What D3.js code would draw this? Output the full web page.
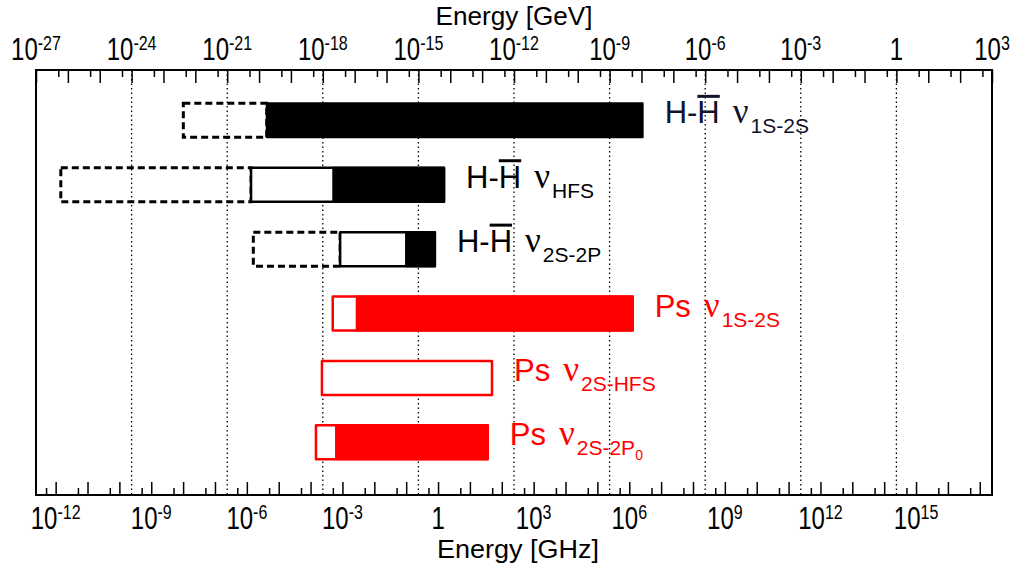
<!DOCTYPE html>
<html>
<head>
<meta charset="utf-8">
<script src="https://cdn.jsdelivr.net/npm/d3@7"></script>
<style>
  body { margin: 0; background: #fff; }
  svg text { font-family: "Liberation Sans", Arial, sans-serif; }
</style>
</head>
<body>
<svg id="chart"></svg>
<script>
// Energy ranges per row, in GeV (top axis)
var rowLabel = ["H-H", "H-H", "H-H", "Ps", "Ps", "Ps"];
var rowSub = ["1S-2S", "HFS", "2S-2P", "1S-2S", "2S-HFS", "2S-2P"];
var rowSubSub = ["", "", "", "", "", "0"];
var rowBar = [true, true, true, false, false, false]; // H-Hbar rows get the overline
var rowColor = ["#000", "#000", "#000", "#ff0000", "#ff0000", "#ff0000"];
var rowTextColor = ["#12122c", "#000", "#000", "#ff0000", "#ff0000", "#ff0000"];

var dashedFrom = [4.2e-23, 6.0e-27, 6.6e-21, null, null, null];
var dashedTo = [1.74e-20, 5.6e-21, 3.5e-18, null, null, null];
var openFrom = [null, 5.6e-21, 3.5e-18, 2.05e-18, 9.4e-19, 6.1e-19];
var fillFrom = [1.74e-20, 2.13e-18, 4.1e-16, 1.16e-17, null, 2.6e-18];
var upperEdge = [1.09e-8, 6.4e-15, 3.3e-15, 5.3e-9, 2.04e-13, 1.5e-13];

var gevDecades = d3.range(-27, 4);          // top axis decades
var gevLabelExp = d3.range(-27, 4, 3);     // labelled top ticks
var ghzDecades = d3.range(-12, 18);        // bottom axis decades
var ghzLabelExp = d3.range(-12, 16, 3);    // labelled bottom ticks

var GEV_PER_GHZ = 4.1357e-15;

var dimensions = {
    width: 1014,
    height: 567,
    left: 36,
    right: 992,
    top: 70,
    bottom: 495
};

var svg = d3.select("#chart")
    .attr("width", dimensions.width)
    .attr("height", dimensions.height);

svg.append("rect")
    .attr("width", dimensions.width)
    .attr("height", dimensions.height)
    .attr("fill", "white");

var xScale = d3.scaleLog()
    .domain([1e-27, 1e3])
    .range([dimensions.left, dimensions.right]);

var xGhz = d3.scaleLog()
    .domain([1e-27 / GEV_PER_GHZ, 1e3 / GEV_PER_GHZ])
    .range([dimensions.left, dimensions.right]);

var yScale = d3.scaleBand()
    .domain(d3.range(rowLabel.length))
    .range([dimensions.top, dimensions.bottom])
    .paddingInner(0.472)
    .paddingOuter(0.536)
    .align(0.483);

// dotted grid lines at labelled GeV ticks
svg.append("g")
    .selectAll("line")
    .data(gevLabelExp.filter(e => e > -27 && e < 3))
    .enter()
    .append("line")
    .attr("x1", d => xScale(Math.pow(10, d)))
    .attr("x2", d => xScale(Math.pow(10, d)))
    .attr("y1", dimensions.top)
    .attr("y2", dimensions.bottom)
    .attr("stroke", "#000")
    .attr("stroke-width", 1.3)
    .attr("stroke-dasharray", "1.5,3");

// ticks: long at decades, short at 5 x decade
function tickAxis(axisFn, scale, values, size, y) {
    var g = svg.append("g")
        .attr("transform", `translate(0, ${y})`)
        .call(axisFn(scale).tickValues(values).tickSize(size).tickFormat(""));
    g.select(".domain").remove();
    g.selectAll("line").attr("stroke", "#000").attr("stroke-width", 1.5);
}

var gevMajor = gevDecades.map(e => Math.pow(10, e));
var gevMinor = gevDecades.slice(0, -1).map(e => 5 * Math.pow(10, e));
var ghzMajor = ghzDecades.map(e => Math.pow(10, e));
var ghzMinor = d3.range(-13, 17).map(e => 5 * Math.pow(10, e));

tickAxis(d3.axisTop, xScale, gevMajor, -13, dimensions.top);
tickAxis(d3.axisTop, xScale, gevMinor, -7, dimensions.top);
tickAxis(d3.axisBottom, xGhz, ghzMajor, -13, dimensions.bottom);
tickAxis(d3.axisBottom, xGhz, ghzMinor, -7, dimensions.bottom);

// power-of-ten labels (glyphs a little taller than wide, like the original)
function powerLabels(scale, exps, y) {
    var t = svg.append("g")
        .selectAll("text")
        .data(exps)
        .enter()
        .append("text")
        .attr("transform", d => `translate(${scale(Math.pow(10, d))}, ${y}) scale(1, 1.28)`)
        .attr("text-anchor", "middle")
        .attr("font-size", 24)
        .attr("fill", "#000");
    t.filter(d => d === 0).text("1");
    t.filter(d => d !== 0).each(function(d) {
        var el = d3.select(this);
        el.append("tspan").text("10");
        el.append("tspan")
            .attr("dy", -8)
            .attr("font-size", 16)
            .text(d);
    });
}

powerLabels(xScale, gevLabelExp, 60);
powerLabels(xGhz, ghzLabelExp, 529);

// axis titles
svg.append("text")
    .attr("transform", `translate(${(dimensions.left + dimensions.right) / 2}, 25) scale(1, 1.1)`)
    .attr("text-anchor", "middle")
    .attr("font-size", 23)
    .attr("textLength", 157)
    .attr("lengthAdjust", "spacingAndGlyphs")
    .text("Energy [GeV]");

svg.append("text")
    .attr("transform", `translate(${(dimensions.left + dimensions.right) / 2 + 4}, 558) scale(1, 1.15)`)
    .attr("text-anchor", "middle")
    .attr("font-size", 23)
    .attr("textLength", 162)
    .attr("lengthAdjust", "spacingAndGlyphs")
    .text("Energy [GHz]");

// bars
var bars = svg.append("g");
var bw = yScale.bandwidth();

rowLabel.forEach((label, i) => {
    var y0 = yScale(i);
    if (dashedFrom[i] !== null) {
        bars.append("rect")
            .attr("x", xScale(dashedFrom[i]))
            .attr("y", y0)
            .attr("width", xScale(dashedTo[i]) - xScale(dashedFrom[i]))
            .attr("height", bw)
            .attr("fill", "none")
            .attr("stroke", "#000")
            .attr("stroke-width", 3)
            .attr("stroke-dasharray", "7,4");
    }
    if (openFrom[i] !== null) {
        bars.append("rect")
            .attr("x", xScale(openFrom[i]))
            .attr("y", y0)
            .attr("width", xScale(upperEdge[i]) - xScale(openFrom[i]))
            .attr("height", bw)
            .attr("fill", "white")
            .attr("stroke", rowColor[i])
            .attr("stroke-width", 2.5)
            .attr("stroke-linejoin", "round");
    }
    if (fillFrom[i] !== null) {
        bars.append("rect")
            .attr("x", xScale(fillFrom[i]))
            .attr("y", y0)
            .attr("width", xScale(upperEdge[i]) - xScale(fillFrom[i]))
            .attr("height", bw)
            .attr("fill", rowColor[i])
            .attr("stroke", rowColor[i])
            .attr("stroke-width", 2)
            .attr("stroke-linejoin", "round");
    }

    // row label
    var tx = xScale(upperEdge[i]) + 22;
    var ty = y0 + bw / 2 + 3;
    var txt = svg.append("text")
        .attr("x", tx)
        .attr("y", ty)
        .attr("font-size", 31)
        .attr("fill", rowTextColor[i]);
    txt.append("tspan").text(label);
    txt.append("tspan")
        .attr("dx", 13)
        .attr("font-size", 35)
        .style("font-family", "'Liberation Serif', 'Times New Roman', serif")
        .text("\u03bd");
    txt.append("tspan")
        .attr("dx", 2)
        .attr("dy", 10)
        .attr("font-size", 21)
        .text(rowSub[i]);
    if (rowSubSub[i]) {
        txt.append("tspan")
            .attr("dy", 5)
            .attr("font-size", 14)
            .text(rowSubSub[i]);
    }
    if (rowBar[i]) {
        var box = txt.node().getExtentOfChar(2);
        svg.append("line")
            .attr("x1", box.x)
            .attr("x2", box.x + box.width)
            .attr("y1", ty - 27)
            .attr("y2", ty - 27)
            .attr("stroke", rowTextColor[i])
            .attr("stroke-width", 3);
    }
});

// frame
svg.append("rect")
    .attr("x", dimensions.left)
    .attr("y", dimensions.top)
    .attr("width", dimensions.right - dimensions.left)
    .attr("height", dimensions.bottom - dimensions.top)
    .attr("fill", "none")
    .attr("stroke", "#000")
    .attr("stroke-width", 2);
</script>
</body>
</html>
